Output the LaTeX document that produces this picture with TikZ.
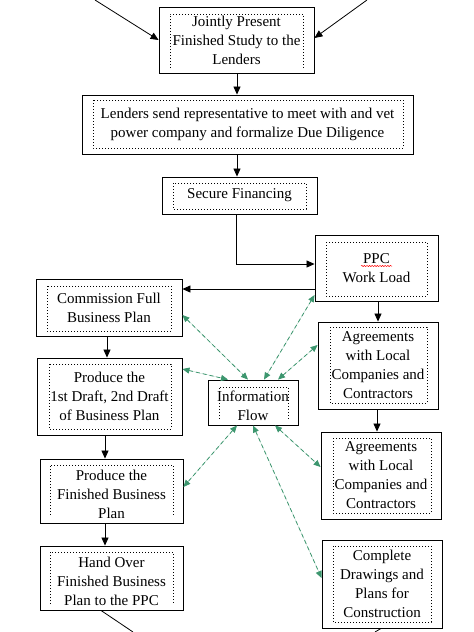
\documentclass[tikz,border=0pt]{standalone}
\usepackage{fontspec}
\setmainfont{Liberation Serif}
\usetikzlibrary{arrows.meta,calc,decorations.pathmorphing}
\definecolor{infogreen}{RGB}{60,150,110}
\begin{document}
\begin{tikzpicture}[x=1pt,y=-1pt,
  box/.style={draw, line width=0.9pt, inner sep=0pt, align=center,
    font=\fontsize{15}{19}\selectfont},
  txt/.style={inner sep=0pt, align=center, font=\fontsize{15}{19}\selectfont},
  innerdot/.style={line width=0.7pt, dash pattern=on 0.8pt off 2.2pt},
  flow/.style={-{Triangle[length=8pt,width=7pt]}, line width=0.8pt},
  plain/.style={line width=0.8pt},
  info/.style={{Triangle[length=7pt,width=6pt]}-{Triangle[length=7pt,width=6pt]},
    dash pattern=on 4pt off 3pt, draw=infogreen, fill=infogreen, line width=0.8pt}]
\fill[white] (0,0) rectangle (474,632);
\useasboundingbox (0,0) rectangle (474,632);

% boxes
\node[box, minimum width=155pt, minimum height=66pt] (J) at (236.5,40) {Jointly Present\\Finished Study to the\\Lenders};
\node[box, minimum width=331pt, minimum height=59pt] (L) at (247.5,124.5) {Lenders send representative to meet with and vet\\power company and formalize Due Diligence};
\node[box, minimum width=155pt, minimum height=37pt] (S) at (239.5,195.5) {Secure Financing};
\node[box, minimum width=123pt, minimum height=66pt] (P) at (376.5,268) {PPC\\Work Load};
\node[box, minimum width=146pt, minimum height=57pt] (C) at (109,307.5) {Commission Full\\Business Plan};
\node[box, minimum width=120pt, minimum height=87pt] (A1) at (378,365.5) {Agreements\\with Local\\Companies and\\Contractors};
\node[box, minimum width=120pt, minimum height=87pt] (A2) at (381,475.5) {Agreements\\with Local\\Companies and\\Contractors};
\node[box, minimum width=120pt, minimum height=88pt] (D) at (382,584) {Complete\\Drawings and\\Plans for\\Construction};
\node[box, minimum width=145pt, minimum height=77pt] (PD) at (109.5,396.5) {Produce the\\1st Draft, 2nd Draft\\of Business Plan};
\node[box, minimum width=143pt, minimum height=64pt] (PF) at (111.5,491) {};
\node[txt] (PFt) at (111.5,494) {Produce the\\Finished Business\\Plan};
\node[box, minimum width=143pt, minimum height=64pt] (H) at (111.5,578) {};
\node[txt] (Ht) at (111.5,581) {Hand Over\\Finished Business\\Plan to the PPC};
\node[box, minimum width=90pt, minimum height=45pt] (I) at (253,402.5) {};
\node[txt] (It) at (253,405.5) {Information\\Flow};

% inner dotted frames
\draw[innerdot] (170,68) -- (170,14) -- (303,14) -- (303,68);
\draw[innerdot] (93,100) rectangle (403,148);
\draw[innerdot] (173,183) rectangle (306,209);
\draw[innerdot] (326,242) rectangle (427,296);
\draw[innerdot] (47,286) rectangle (171,331);
\draw[innerdot] (330,327) rectangle (427,403);
\draw[innerdot] (333,438) rectangle (431,513);
\draw[innerdot] (333,546) rectangle (431,622);
\draw[innerdot] (49,364) rectangle (171,429);
\draw[innerdot] (50,515) -- (50,465) -- (173,465) -- (173,515);
\draw[innerdot] (50,604) -- (50,552) -- (173,552) -- (173,604);
\draw[innerdot] (219,419) -- (219,387) -- (288,387) -- (288,419);

% spell-check underline
\draw[red, line width=0.5pt, decorate, decoration={snake, amplitude=0.6pt, segment length=2.6pt}] (361,266) -- (392,266);

% free ends
\coordinate (t1) at (95,0);
\coordinate (t2) at (367,0);
\coordinate (b1) at (133,632);
\coordinate (b2) at (375,632);

% black connectors
\draw[flow] (t1) -- (J.west |- 0,40);
\draw[flow] (t2) -- (J.east |- 0,38);
\draw[flow] (J.south -| 237,0) -- (L.north -| 237,0);
\draw[flow] (L.south -| 237,0) -- (S.north -| 237,0);
\draw[flow] (S.south -| 236,0) |- (P.west |- 0,264);
\draw[flow] (P.west |- 0,289) -- (C.east |- 0,289);
\draw[flow] (P.south -| 378,0) -- (A1.north -| 378,0);
\draw[flow] (A1.south -| 377,0) -- (A2.north -| 377,0);
\draw[flow] (C.south -| 107,0) -- (PD.north -| 107,0);
\draw[flow] (PD.south -| 105,0) -- (PF.north -| 105,0);
\draw[flow] (PF.south -| 105,0) -- (H.north -| 105,0);
\draw[plain] (H.south -| 101,0) -- (b1);
\draw[plain] (D.south -| 381,0) -- (b2);

% information flow
\draw[info] (C.east |- 0,315) -- (I.north -| 248,0);
\draw[info] (P.west |- 0,295) -- (I.north -| 264,0);
\draw[info] (A1.west |- 0,345) -- (I.north -| 278,0);
\draw[info] (PD.east |- 0,369) -- (I.north -| 228,0);
\draw[info] (I.south -| 237,0) -- (PF.east |- 0,487);
\draw[info] (I.south -| 253,0) -- (D.west |- 0,578);
\draw[info] (I.south -| 275,0) -- (A2.west |- 0,467);
\end{tikzpicture}
\end{document}
